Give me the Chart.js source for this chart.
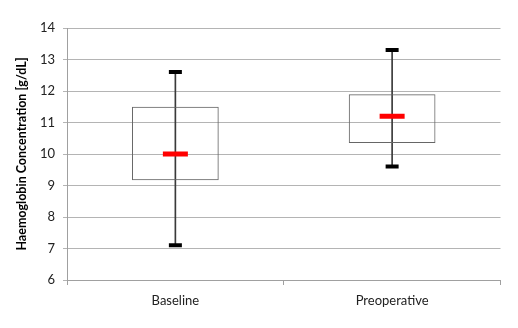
<!DOCTYPE html>
<html><head><meta charset="utf-8">
<script src="https://cdn.jsdelivr.net/npm/chart.js@4/dist/chart.umd.min.js"></script>
<style>html,body{margin:0;padding:0;background:#fff}#w{width:518px;height:328px}</style>
</head><body><div id="w"><canvas id="c" width="518" height="328"></canvas></div>
<script>
const categories = ["Baseline", "Preoperative"];
const minValues = [7.1, 9.6];
const q1Values = [9.17, 10.35];
const medianValues = [10.0, 11.2];
const q3Values = [11.5, 11.9];
const maxValues = [12.6, 13.3];
const yTicks = [6, 7, 8, 9, 10, 11, 12, 13, 14];

const font = "Lato, 'Open Sans', sans-serif";
new Chart(document.getElementById('c'), {
  type: 'bar',
  data: {
    labels: categories,
    datasets: [
      { type: 'bar', data: categories.map((c,i)=>[minValues[i], maxValues[i]]), grouped: false,
        barThickness: 1, backgroundColor: '#3a3a3a', borderWidth: 0, order: 3 },
      { type: 'bar', data: categories.map((c,i)=>[q1Values[i], q3Values[i]]), grouped: false,
        barPercentage: 0.4, categoryPercentage: 1, backgroundColor: 'rgba(0,0,0,0)',
        borderColor: '#666666', borderWidth: 1, borderSkipped: false, order: 2 },
      { type: 'line', data: maxValues, showLine: false, pointStyle: 'line', pointRadius: 6.5,
        pointBorderWidth: 4, pointBorderColor: '#000', order: 1 },
      { type: 'line', data: minValues, showLine: false, pointStyle: 'line', pointRadius: 6.5,
        pointBorderWidth: 4, pointBorderColor: '#000', order: 1 },
      { type: 'line', data: medianValues, showLine: false, pointStyle: 'line', pointRadius: 12.5,
        pointBorderWidth: 5, pointBorderColor: '#ff0000', order: 0 }
    ]
  },
  options: {
    responsive: false, animation: false,
    layout: { padding: { left: 12, right: 16, top: 28, bottom: 0 } },
    plugins: { legend: { display: false }, tooltip: { enabled: false } },
    scales: {
      x: {
        offset: true,
        grid: { offset: true, drawOnChartArea: false, drawTicks: true, tickLength: 5, color: '#a0a0a0' },
        border: { color: '#a0a0a0' },
        ticks: { font: { family: font, size: 13 }, color: '#222', padding: 8 },
        afterFit: s => { s.height = 48; }
      },
      y: {
        min: 6, max: 14,
        afterBuildTicks: s => { s.ticks = yTicks.map(v => ({ value: v })); },
        grid: { color: '#b4b4b4', tickLength: 4 },
        border: { color: '#a0a0a0' },
        ticks: { font: { family: font, size: 13 }, color: '#222', padding: 8 },
        title: { display: true, text: 'Haemoglobin Concentration [g/dL]', font: { family: font, size: 12.5, weight: 'bold' }, color: '#000', padding: 2 },
        afterFit: s => { s.width = 55; }
      }
    }
  }
});
</script></body></html>
